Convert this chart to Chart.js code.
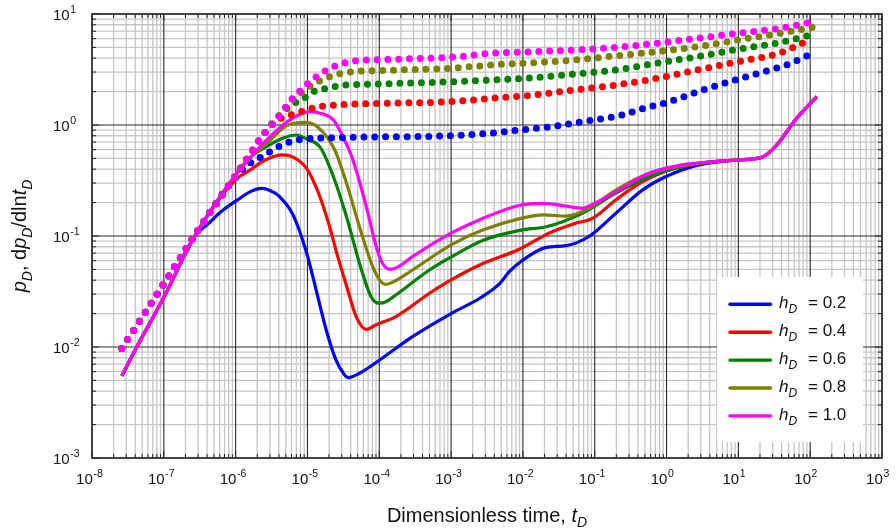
<!DOCTYPE html>
<html>
<head>
<meta charset="utf-8">
<script src="https://cdn.jsdelivr.net/npm/chart.js@4/dist/chart.umd.min.js"></script>
<style>
  html, body { margin: 0; padding: 0; background: #fff; }
</style>
</head>
<body>
<canvas id="chart" width="896" height="529"></canvas>
<script>
// Axis decades and labels
const xDecades = [1e-8, 1e-7, 1e-6, 1e-5, 1e-4, 1e-3, 1e-2, 1e-1, 1e0, 1e1, 1e2, 1e3];
const xDecadeExp = ['-8', '-7', '-6', '-5', '-4', '-3', '-2', '-1', '0', '1', '2', '3'];
const yDecades = [1e-3, 1e-2, 1e-1, 1e0, 1e1];
const yDecadeExp = ['-3', '-2', '-1', '0', '1'];

const hDValues = ['0.2', '0.4', '0.6', '0.8', '1.0'];
const lineColors = ['#0000ff', '#ff0000', '#008000', '#808000', '#ff00ff'];

// dp_D/dln t_D (solid curves)
const derivT02 = [2.6e-8, 4.2e-8, 1e-7, 2.7e-7, 4.0e-7, 6.3e-7, 1.15e-6, 1.6e-6, 2.3e-6, 3.5e-6, 4.1e-6, 6.3e-6, 9.7e-6, 1.4e-5, 1.85e-5, 2.5e-5, 3.2e-5, 3.7e-5, 5.3e-5, 1.0e-4, 2.9e-4, 1e-3, 2.5e-3, 4.7e-3, 6.5e-3, 9.4e-3, 2.1e-2, 4.0e-2, 8.3e-2, 0.196, 0.46, 0.97, 2.81, 9.6, 21.3, 32.7, 62, 124];
const derivP02 = [5.5e-3, 1.0e-2, 2.8e-2, 0.1, 0.126, 0.166, 0.219, 0.251, 0.269, 0.245, 0.226, 0.155, 0.071, 0.028, 0.0138, 7.6e-3, 5.75e-3, 5.3e-3, 5.8e-3, 7.6e-3, 1.24e-2, 2.0e-2, 2.75e-2, 3.7e-2, 4.8e-2, 5.9e-2, 7.9e-2, 8.2e-2, 0.099, 0.16, 0.259, 0.342, 0.437, 0.484, 0.512, 0.638, 1.11, 1.80];

const derivT04 = [2.6e-8, 4.2e-8, 1e-7, 2.7e-7, 1e-6, 1.6e-6, 2.5e-6, 4.5e-6, 6.3e-6, 9.7e-6, 1.4e-5, 2.0e-5, 2.6e-5, 3.5e-5, 4.8e-5, 6.6e-5, 8.9e-5, 1.7e-4, 5.0e-4, 1e-3, 2.5e-3, 8.9e-3, 2.3e-2, 5.4e-2, 9.3e-2, 0.196, 0.46, 1.33, 4.0, 9.6, 21.3, 32.7, 62, 124];
const derivP04 = [5.5e-3, 1.0e-2, 2.8e-2, 0.1, 0.32, 0.394, 0.479, 0.537, 0.513, 0.407, 0.251, 0.126, 0.0676, 0.0355, 0.0186, 0.0144, 0.0158, 0.0188, 0.0305, 0.0402, 0.0548, 0.076, 0.106, 0.130, 0.144, 0.211, 0.308, 0.407, 0.462, 0.484, 0.512, 0.638, 1.11, 1.80];

const derivT06 = [2.6e-8, 4.2e-8, 1e-7, 2.7e-7, 1e-6, 1.6e-6, 2.7e-6, 4.5e-6, 7.0e-6, 1e-5, 1.5e-5, 2.3e-5, 3.5e-5, 5.3e-5, 7.7e-5, 9.9e-5, 1.26e-4, 1.7e-4, 5.0e-4, 1e-3, 2.75e-3, 9.4e-3, 2.1e-2, 6.7e-2, 0.196, 0.57, 2.8, 9.6, 21.3, 32.7, 62, 124];
const derivP06 = [5.5e-3, 1.0e-2, 2.8e-2, 0.1, 0.355, 0.51, 0.638, 0.759, 0.813, 0.741, 0.631, 0.342, 0.149, 0.0568, 0.0284, 0.0248, 0.0257, 0.0294, 0.0494, 0.0646, 0.0912, 0.113, 0.121, 0.16, 0.243, 0.342, 0.452, 0.484, 0.512, 0.638, 1.11, 1.80];

const derivT08 = [2.6e-8, 4.2e-8, 1e-7, 2.7e-7, 1e-6, 1.6e-6, 2.7e-6, 5.0e-6, 9.2e-6, 1.4e-5, 2.4e-5, 3.5e-5, 5.3e-5, 8.1e-5, 1.05e-4, 1.22e-4, 1.6e-4, 2.9e-4, 1e-3, 2.75e-3, 9.4e-3, 1.9e-2, 4.0e-2, 8.3e-2, 0.196, 0.57, 2.8, 9.6, 21.3, 32.7, 62, 124];
const derivP08 = [5.5e-3, 1.0e-2, 2.8e-2, 0.1, 0.355, 0.51, 0.676, 0.977, 1.057, 0.955, 0.596, 0.299, 0.121, 0.053, 0.0389, 0.0367, 0.0389, 0.0494, 0.0832, 0.113, 0.144, 0.155, 0.151, 0.178, 0.259, 0.367, 0.452, 0.484, 0.512, 0.638, 1.11, 1.80];

const derivT10 = [2.6e-8, 4.2e-8, 1e-7, 2.7e-7, 1e-6, 1.6e-6, 2.7e-6, 5.7e-6, 1.08e-5, 1.6e-5, 2.3e-5, 3.2e-5, 4.3e-5, 6.6e-5, 9.1e-5, 1.12e-4, 1.4e-4, 1.8e-4, 2.9e-4, 1e-3, 2.75e-3, 9.4e-3, 1.9e-2, 3.2e-2, 6.7e-2, 0.10, 0.24, 0.57, 1.65, 9.6, 21.3, 32.7, 62, 124];
const derivP10 = [5.5e-3, 1.0e-2, 2.8e-2, 0.1, 0.355, 0.51, 0.733, 1.11, 1.32, 1.26, 1.11, 0.759, 0.484, 0.184, 0.0794, 0.0562, 0.0501, 0.0525, 0.0652, 0.106, 0.144, 0.19, 0.197, 0.19, 0.178, 0.197, 0.269, 0.367, 0.437, 0.484, 0.512, 0.638, 1.11, 1.80];

// p_D (dotted curves)
const presT02 = [2.6e-8, 9.4e-8, 2.7e-7, 8.3e-7, 1.4e-6, 2.4e-6, 3.5e-6, 4.8e-6, 6.7e-6, 9.2e-6, 1.3e-5, 3.5e-5, 5.0e-4, 9.5e-4, 3.4e-3, 9.2e-3, 2.45e-2, 6.7e-2, 0.24, 0.48, 0.92, 1.74, 3.4, 9.1, 25, 47, 90];
const presP02 = [9.7e-3, 0.0349, 0.102, 0.294, 0.427, 0.525, 0.61, 0.675, 0.723, 0.748, 0.759, 0.774, 0.79, 0.80, 0.841, 0.902, 0.966, 1.07, 1.23, 1.41, 1.57, 1.80, 2.10, 2.54, 3.08, 3.47, 4.19];

const presT04 = [2.6e-8, 9.4e-8, 2.7e-7, 8.3e-7, 1.3e-6, 2.55e-6, 4.0e-6, 6.3e-6, 8.9e-6, 1.26e-5, 1.7e-5, 3.3e-5, 1.2e-4, 9.5e-4, 3.8e-3, 1.4e-2, 5.2e-2, 0.196, 0.72, 2.7, 9.9, 37, 87];
const presP04 = [9.7e-3, 0.0349, 0.102, 0.294, 0.452, 0.853, 1.12, 1.25, 1.34, 1.44, 1.48, 1.53, 1.57, 1.62, 1.74, 1.86, 2.07, 2.29, 2.63, 3.13, 3.72, 4.43, 5.62];

const presT06 = [2.6e-8, 9.4e-8, 2.7e-7, 8.3e-7, 1.3e-6, 2.55e-6, 4.4e-6, 6.8e-6, 9.7e-6, 1.3e-5, 1.85e-5, 2.6e-5, 3.5e-5, 9.6e-5, 9.5e-4, 3.8e-3, 1.4e-2, 5.2e-2, 0.196, 0.72, 2.7, 9.9, 37, 90];
const presP06 = [9.7e-3, 0.0349, 0.102, 0.294, 0.452, 0.853, 1.29, 1.585, 1.80, 2.04, 2.14, 2.24, 2.29, 2.34, 2.45, 2.54, 2.67, 2.88, 3.13, 3.6, 4.13, 4.81, 5.51, 6.34];

const presT08 = [2.6e-8, 9.4e-8, 2.7e-7, 8.3e-7, 1.3e-6, 2.55e-6, 4.4e-6, 6.3e-6, 8.7e-6, 1.16e-5, 2.15e-5, 4.2e-5, 8.1e-5, 9.5e-4, 3.8e-3, 1.4e-2, 5.2e-2, 0.196, 0.72, 2.7, 9.9, 37, 111];
const presP08 = [9.7e-3, 0.0349, 0.102, 0.294, 0.452, 0.853, 1.29, 1.70, 2.0, 2.29, 2.76, 3.02, 3.08, 3.24, 3.48, 3.64, 3.85, 4.19, 4.57, 5.08, 5.83, 6.70, 7.59];

const presT10 = [2.6e-8, 9.4e-8, 2.7e-7, 8.3e-7, 1.3e-6, 2.55e-6, 4.4e-6, 5.5e-6, 7.3e-6, 1.02e-5, 1.45e-5, 2.0e-5, 3.8e-5, 1.0e-4, 9.5e-4, 3.8e-3, 1.4e-2, 5.2e-2, 0.196, 0.72, 2.7, 9.9, 37, 98];
const presP10 = [9.7e-3, 0.0349, 0.102, 0.294, 0.452, 0.853, 1.29, 1.59, 1.93, 2.38, 2.82, 3.20, 3.72, 3.87, 4.07, 4.43, 4.57, 4.74, 5.01, 5.45, 6.04, 6.70, 7.43, 8.36];

const derivSeries = [[derivT02, derivP02], [derivT04, derivP04], [derivT06, derivP06], [derivT08, derivP08], [derivT10, derivP10]];
const presSeries = [[presT02, presP02], [presT04, presP04], [presT06, presP06], [presT08, presP08], [presT10, presP10]];

const FONT = '"Liberation Sans", Arial, Helvetica, sans-serif';

function toPoints(ts, vs) {
    return ts.map((t, i) => ({ x: t, y: vs[i] }));
}

// draws a run of text pieces: {t, size, italic, dy}
function drawRich(ctx, parts, x, y, align) {
    let total = 0;
    const widths = parts.map(p => {
        ctx.font = (p.italic ? 'italic ' : '') + p.size + 'px ' + FONT;
        const w = ctx.measureText(p.t).width;
        total += w;
        return w;
    });
    let cx = x;
    if (align === 'center') cx = x - total / 2;
    if (align === 'right') cx = x - total;
    parts.forEach((p, i) => {
        ctx.font = (p.italic ? 'italic ' : '') + p.size + 'px ' + FONT;
        ctx.fillText(p.t, cx, y + (p.dy || 0));
        cx += widths[i];
    });
}

const datasets = [];
presSeries.forEach(([ts, vs], i) => {
    datasets.push({
        data: toPoints(ts, vs),
        borderColor: lineColors[i],
        borderWidth: 7,
        borderDash: [0, 10.8],
        borderCapStyle: 'round',
        pointRadius: 0,
        cubicInterpolationMode: 'monotone',
        order: 4 - i
    });
});
derivSeries.forEach(([ts, vs], i) => {
    datasets.push({
        data: toPoints(ts, vs),
        borderColor: lineColors[i],
        borderWidth: 3.2,
        pointRadius: 0,
        cubicInterpolationMode: 'monotone',
        order: 9 - i
    });
});

const plotDecor = {
    id: 'plotDecor',
    beforeDatasetsDraw(chart) {
        const ctx = chart.ctx;
        const { left, right, top, bottom } = chart.chartArea;
        const xs = chart.scales.x, ys = chart.scales.y;
        ctx.save();
        // minor grid
        ctx.strokeStyle = '#c6c6c6';
        ctx.lineWidth = 1.3;
        ctx.beginPath();
        for (let d = 0; d < xDecades.length - 1; d++) {
            for (let m = 2; m <= 9; m++) {
                const px = xs.getPixelForValue(m * xDecades[d]);
                ctx.moveTo(px, top); ctx.lineTo(px, bottom);
            }
        }
        for (let d = 0; d < yDecades.length - 1; d++) {
            for (let m = 2; m <= 9; m++) {
                const py = ys.getPixelForValue(m * yDecades[d]);
                ctx.moveTo(left, py); ctx.lineTo(right, py);
            }
        }
        ctx.stroke();
        // major grid
        ctx.strokeStyle = '#2b2b2b';
        ctx.lineWidth = 1.1;
        ctx.beginPath();
        xDecades.forEach(v => {
            const px = xs.getPixelForValue(v);
            ctx.moveTo(px, top); ctx.lineTo(px, bottom);
        });
        yDecades.forEach(v => {
            const py = ys.getPixelForValue(v);
            ctx.moveTo(left, py); ctx.lineTo(right, py);
        });
        ctx.stroke();
        ctx.restore();
    },
    afterDatasetsDraw(chart) {
        const ctx = chart.ctx;
        const { left, right, top, bottom } = chart.chartArea;
        const xs = chart.scales.x, ys = chart.scales.y;
        ctx.save();

        // legend panel
        ctx.fillStyle = '#fff';
        ctx.fillRect(717, 277, 146, 165);

        // inside ticks on all four sides
        ctx.strokeStyle = '#222';
        ctx.lineWidth = 1;
        ctx.beginPath();
        for (let d = 0; d < xDecades.length; d++) {
            for (let m = 1; m <= 9; m++) {
                if (d === xDecades.length - 1 && m > 1) break;
                const px = xs.getPixelForValue(m * xDecades[d]);
                const len = m === 1 ? 7 : 4;
                ctx.moveTo(px, bottom); ctx.lineTo(px, bottom - len);
                ctx.moveTo(px, top); ctx.lineTo(px, top + len);
            }
        }
        for (let d = 0; d < yDecades.length; d++) {
            for (let m = 1; m <= 9; m++) {
                if (d === yDecades.length - 1 && m > 1) break;
                const py = ys.getPixelForValue(m * yDecades[d]);
                const len = m === 1 ? 7 : 4;
                ctx.moveTo(left, py); ctx.lineTo(left + len, py);
                ctx.moveTo(right, py); ctx.lineTo(right - len, py);
            }
        }
        ctx.stroke();

        // frame
        ctx.strokeStyle = '#333';
        ctx.lineWidth = 1.6;
        ctx.strokeRect(left, top, right - left, bottom - top);

        // legend entries
        ctx.textBaseline = 'alphabetic';
        hDValues.forEach((h, i) => {
            const ly = 304.3 + i * 27.9;
            ctx.strokeStyle = lineColors[i];
            ctx.lineWidth = 3.4;
            ctx.lineCap = 'round';
            ctx.beginPath();
            ctx.moveTo(730, ly); ctx.lineTo(770.5, ly);
            ctx.stroke();
            ctx.fillStyle = '#111';
            drawRich(ctx, [
                { t: 'h', size: 17, italic: true },
                { t: 'D', size: 12, italic: true, dy: 5.5 }
            ], 779, ly + 3.6, 'left');
            drawRich(ctx, [{ t: '= ' + h, size: 17 }], 808, ly + 3.6, 'left');
        });

        // tick labels
        ctx.fillStyle = '#111';
        xDecades.forEach((v, i) => {
            const px = xs.getPixelForValue(v);
            ctx.font = '15px ' + FONT;
            ctx.textAlign = 'right';
            ctx.fillText('10', px + 0.8, 484);
            ctx.font = '10.5px ' + FONT;
            ctx.textAlign = 'left';
            ctx.fillText(xDecadeExp[i], px + 1.4, 476.5);
        });
        yDecades.forEach((v, i) => {
            const py = ys.getPixelForValue(v);
            ctx.font = '15px ' + FONT;
            ctx.textAlign = 'left';
            ctx.fillText('10', 53, py + 5.5);
            const w = ctx.measureText('10').width;
            ctx.font = '10.5px ' + FONT;
            ctx.fillText(yDecadeExp[i], 53 + w + 0.6, py - 1.5);
        });

        // axis titles
        ctx.textAlign = 'left';
        drawRich(ctx, [
            { t: 'Dimensionless time, ', size: 20 },
            { t: 't', size: 20, italic: true },
            { t: 'D', size: 14, italic: true, dy: 5 }
        ], 487, 521.5, 'center');

        ctx.translate(25.5, 236);
        ctx.rotate(-Math.PI / 2);
        drawRich(ctx, [
            { t: 'p', size: 20, italic: true },
            { t: 'D', size: 14, italic: true, dy: 6 },
            { t: ', d', size: 20 },
            { t: 'p', size: 20, italic: true },
            { t: 'D', size: 14, italic: true, dy: 6 },
            { t: '/dln', size: 20 },
            { t: 't', size: 20, italic: true },
            { t: 'D', size: 14, italic: true, dy: 6 }
        ], 0, 0, 'center');
        ctx.restore();
    }
};

new Chart(document.getElementById('chart'), {
    type: 'line',
    data: { datasets: datasets },
    options: {
        responsive: false,
        animation: false,
        devicePixelRatio: 1,
        layout: { padding: { left: 92, right: 14, top: 14, bottom: 71 } },
        plugins: {
            legend: { display: false },
            tooltip: { enabled: false }
        },
        scales: {
            x: { type: 'logarithmic', min: 1e-8, max: 1e3, display: false },
            y: { type: 'logarithmic', min: 1e-3, max: 1e1, display: false }
        }
    },
    plugins: [plotDecor]
});
</script>
</body>
</html>
